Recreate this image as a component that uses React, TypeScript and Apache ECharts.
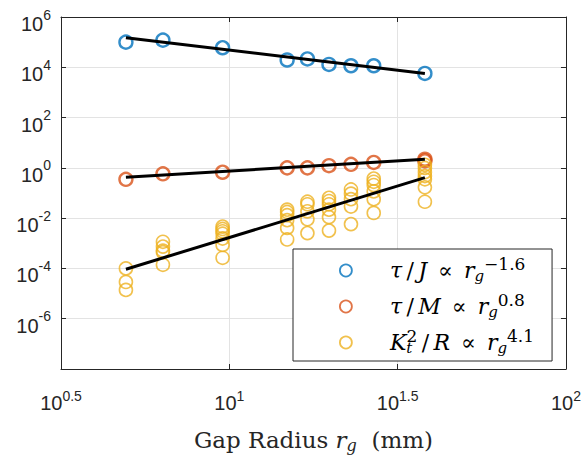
import React, { useEffect, useRef } from 'react';
import * as echarts from 'echarts';

// Gap radius (mm) of each tested design
const gapRadius = [4.93, 6.35, 9.55, 14.85, 17.06, 19.77, 22.98, 26.85, 38.1];

// tau / J  (one value per gap radius)
const tauOverJ = [1.0e5, 1.2e5, 6.0e4, 1.95e4, 2.15e4, 1.3e4, 1.15e4, 1.15e4, 5.7e3];

// tau / M  (one or two values per gap radius)
const tauOverM = [[0.35], [0.58], [0.67], [1.0], [1.0], [1.22], [1.38], [1.64], [2.2, 1.9]];

// Kt^2 / R  (several designs per gap radius)
const kt2OverR = [
  [1.0e-4, 2.9e-5, 1.4e-5],
  [1.15e-3, 7.4e-4, 5.1e-4, 4.4e-4, 1.4e-4],
  [4.6e-3, 3.7e-3, 3.0e-3, 2.4e-3, 1.55e-3, 8.6e-4, 2.65e-4],
  [0.0217, 0.0176, 0.0131, 8.3e-3, 4.1e-3, 1.42e-3],
  [0.045, 0.0356, 0.0187, 9.0e-3, 2.54e-3],
  [0.064, 0.048, 0.0356, 0.0217, 0.011, 3.2e-3],
  [0.138, 0.094, 0.057, 0.029, 5.8e-3],
  [0.374, 0.28, 0.207, 0.116, 0.057, 0.0161],
  [1.32, 0.99, 0.675, 0.474, 0.352, 0.169, 0.045],
];

// Power-law fits, evaluated at the smallest and largest gap radius
const fitRadius = [4.93, 38.1];
const fitTauOverJ = [1.5e5, 5.7e3];
const fitTauOverM = [0.425, 2.18];
const fitKt2OverR = [9.3e-5, 0.408];

// Axis ranges (decades)
const xLogMin = 0.5;
const xLogMax = 2;
const yLogMin = -8;
const yLogMax = 6;

const BLUE = '#0072BD';
const ORANGE = '#D95319';
const YELLOW = '#EDB120';
const AXIS = '#262626';
const SANS = '"Liberation Sans", Arial, sans-serif';
const SERIF = '"DejaVu Serif", "Liberation Serif", serif';

const lg = (v: number) => Math.log10(v);

function pairs(xs: number[], ys: number[]) {
  return xs.map((x, i) => [lg(x), lg(ys[i])]);
}
function groupPairs(xs: number[], groups: number[][]) {
  const out: number[][] = [];
  xs.forEach((x, i) => groups[i].forEach((y) => out.push([lg(x), lg(y)])));
  return out;
}

const SP = '\u2003\u2002';
const PROP = '\u2002∝\u2002';
const SLASH = '\u2009/\u2009';
const legendLabels: Record<string, string> = {
  tauJ: `{sp|${SP}}{i|τ}{n|${SLASH}}{i|J}{n|${PROP}}{i|r}{sub|g}{sup|−1.6}`,
  tauM: `{sp|${SP}}{i|τ}{n|${SLASH}}{i|M}{n|${PROP}}{i|r}{sub|g}{sup|0.8}`,
  kr: `{sp|${SP}}{i|K}{subt|t}{sup|2}{n|${SLASH}}{i|R}{n|${PROP}}{i|r}{sub|g}{sup|4.1}`,
};

export default function App() {
  const ref = useRef<HTMLDivElement>(null);
  useEffect(() => {
    const chart = echarts.init(ref.current!, null, { renderer: 'svg' });
    const tickRich = {
      b: { fontFamily: SANS, fontSize: 20, color: AXIS, lineHeight: 20, padding: [14, 0, 0, 0] },
      s: { fontFamily: SANS, fontSize: 14, color: AXIS, lineHeight: 14, padding: [0, 0, 5, 0] },
    };
    const xTickRich = {
      b: { fontFamily: SANS, fontSize: 20, color: AXIS, lineHeight: 20 },
      s: { fontFamily: SANS, fontSize: 14, color: AXIS, lineHeight: 14, padding: [0, 0, 14, 0] },
    };
    const ital = { fontFamily: SERIF, fontStyle: 'italic', fontSize: 22, color: '#000', lineHeight: 26 };
    const option: any = {
      animation: false,
      backgroundColor: '#fff',
      grid: { left: 61, right: 17, top: 8, bottom: 84, containLabel: false },
      xAxis: [
        {
          type: 'value',
          min: xLogMin,
          max: xLogMax,
          interval: 0.5,
          position: 'bottom',
          axisLine: { show: true, onZero: false, lineStyle: { color: AXIS, width: 1 } },
          axisTick: { show: true, inside: true, length: 5, lineStyle: { color: AXIS } },
          splitLine: { show: true, lineStyle: { color: '#e3e3e3', width: 1 } },
          axisLabel: {
            margin: 24,
            formatter: (v: number) => `{b|10}{s|${v}}`,
            rich: xTickRich,
          },
          name: '{n|Gap Radius }{i|r}{sub|g}{n|  (mm)}',
          nameLocation: 'middle',
          nameGap: 58,
          nameTextStyle: {
            rich: {
              n: { fontFamily: SERIF, fontSize: 23, color: AXIS, lineHeight: 26 },
              i: { fontFamily: SERIF, fontStyle: 'italic', fontSize: 23, color: AXIS, lineHeight: 26 },
              sub: { fontFamily: SERIF, fontStyle: 'italic', fontSize: 16, color: AXIS, lineHeight: 16, padding: [10, 0, 0, 0] },
            },
          },
        },
        {
          type: 'value',
          min: xLogMin,
          max: xLogMax,
          interval: 0.5,
          position: 'top',
          axisLine: { show: true, onZero: false, lineStyle: { color: AXIS, width: 1 } },
          axisTick: { show: true, inside: true, length: 5, lineStyle: { color: AXIS } },
          splitLine: { show: false },
          axisLabel: { show: false },
        },
      ],
      yAxis: [
        {
          type: 'value',
          min: yLogMin,
          max: yLogMax,
          interval: 2,
          position: 'left',
          axisLine: { show: true, onZero: false, lineStyle: { color: AXIS, width: 1 } },
          axisTick: { show: true, inside: true, length: 5, lineStyle: { color: AXIS } },
          splitLine: { show: true, lineStyle: { color: '#e3e3e3', width: 1 } },
          axisLabel: {
            margin: 10,
            formatter: (v: number) => (v === yLogMin ? '' : `{b|10}{s|${v}}`),
            rich: tickRich,
          },
        },
        {
          type: 'value',
          min: yLogMin,
          max: yLogMax,
          interval: 2,
          position: 'right',
          axisLine: { show: true, onZero: false, lineStyle: { color: AXIS, width: 1 } },
          axisTick: { show: true, inside: true, length: 5, lineStyle: { color: AXIS } },
          splitLine: { show: false },
          axisLabel: { show: false },
        },
      ],
      legend: {
        orient: 'vertical',
        left: 293,
        top: 249,
        padding: [6, 18, 3, 46],
        itemGap: 5,
        itemWidth: 12,
        itemHeight: 12,
        borderColor: AXIS,
        borderWidth: 1,
        borderRadius: 0,
        backgroundColor: '#fff',
        data: [
          { name: 'tauJ', icon: 'circle', itemStyle: { color: 'rgba(0,0,0,0)', borderColor: BLUE, borderWidth: 1.8 } },
          { name: 'tauM', icon: 'circle', itemStyle: { color: 'rgba(0,0,0,0)', borderColor: ORANGE, borderWidth: 1.8 } },
          { name: 'kr', icon: 'circle', itemStyle: { color: 'rgba(0,0,0,0)', borderColor: YELLOW, borderWidth: 1.8 } },
        ],
        formatter: (name: string) => legendLabels[name],
        textStyle: {
          rich: {
            sp: { fontFamily: SERIF, fontSize: 22, color: '#000', lineHeight: 26 },
            i: ital,
            n: { ...ital, fontStyle: 'normal' },
            sub: { fontFamily: SERIF, fontStyle: 'italic', fontSize: 15, color: '#000', lineHeight: 15, padding: [10, 0, 0, 0] },
            subt: { fontFamily: SERIF, fontStyle: 'italic', fontSize: 15, color: '#000', lineHeight: 15, padding: [10, 0, 0, 0], width: 0.1 },
            sup: { fontFamily: SERIF, fontSize: 17, color: '#000', lineHeight: 16, padding: [0, 0, 14, 0] },
          },
        },
      },
      series: [
        {
          name: 'tauJ',
          type: 'scatter',
          symbol: 'circle',
          symbolSize: 13,
          itemStyle: { color: 'rgba(0,0,0,0)', borderColor: BLUE, borderWidth: 2.4 },
          data: pairs(gapRadius, tauOverJ),
          z: 2,
        },
        {
          name: 'tauM',
          type: 'scatter',
          symbol: 'circle',
          symbolSize: 13,
          itemStyle: { color: 'rgba(0,0,0,0)', borderColor: ORANGE, borderWidth: 2.4 },
          data: groupPairs(gapRadius, tauOverM),
          z: 2,
        },
        {
          name: 'kr',
          type: 'scatter',
          symbol: 'circle',
          symbolSize: 13,
          itemStyle: { color: 'rgba(0,0,0,0)', borderColor: YELLOW, borderWidth: 1.6 },
          data: groupPairs(gapRadius, kt2OverR),
          z: 2,
        },
        {
          name: 'fitJ',
          type: 'line',
          showSymbol: false,
          symbol: 'none',
          lineStyle: { color: '#000', width: 3 },
          data: pairs(fitRadius, fitTauOverJ),
          z: 3,
        },
        {
          name: 'fitM',
          type: 'line',
          showSymbol: false,
          symbol: 'none',
          lineStyle: { color: '#000', width: 3 },
          data: pairs(fitRadius, fitTauOverM),
          z: 3,
        },
        {
          name: 'fitK',
          type: 'line',
          showSymbol: false,
          symbol: 'none',
          lineStyle: { color: '#000', width: 3 },
          data: pairs(fitRadius, fitKt2OverR),
          z: 3,
        },
      ],
    };
    chart.setOption(option);
    return () => chart.dispose();
  }, []);
  return <div ref={ref} style={{ position: 'absolute', left: 0, top: 0, width: 584, height: 458 }} />;
}
